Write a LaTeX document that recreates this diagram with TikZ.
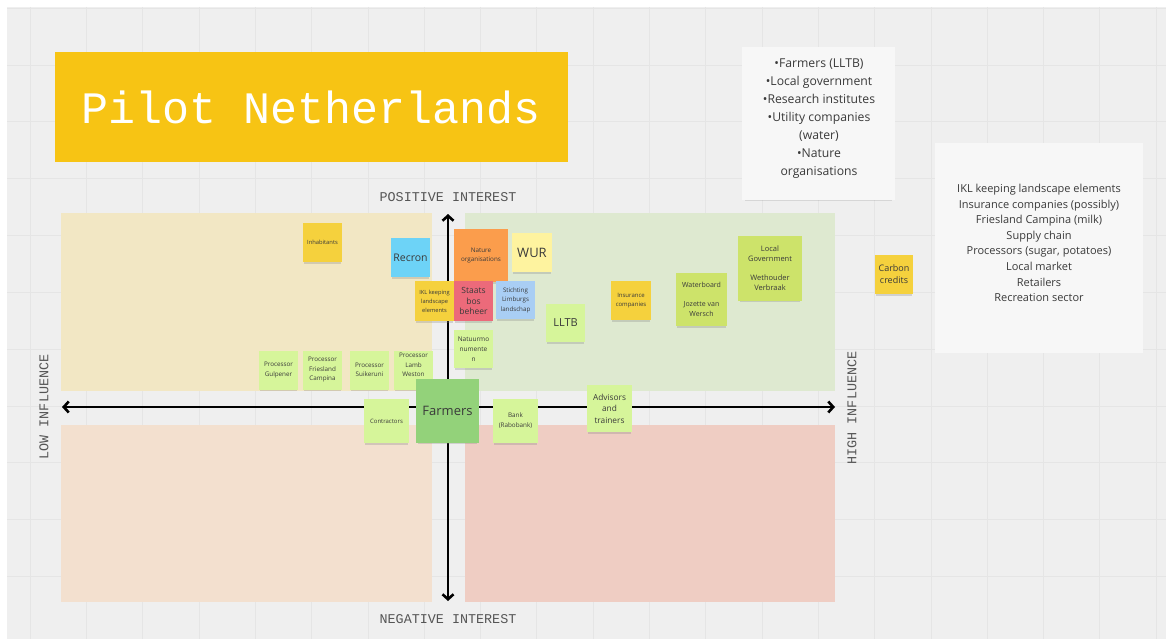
\documentclass[tikz,border=0pt]{standalone}
\usepackage{fontspec}
\setmainfont{Open Sans}
\newfontfamily\monof{Liberation Mono}
\usetikzlibrary{arrows.meta,shadows}
\definecolor{canvas}{HTML}{EFEFEF}
\definecolor{gridc}{HTML}{E5E5E5}
\definecolor{qTL}{HTML}{F2E7C4}
\definecolor{qTR}{HTML}{DEE9D0}
\definecolor{qBL}{HTML}{F3E0CF}
\definecolor{qBR}{HTML}{EFCDC3}
\definecolor{titley}{HTML}{F7C414}
\definecolor{nYel}{HTML}{F5D13D}
\definecolor{nBlue}{HTML}{6DD3F7}
\definecolor{nOra}{HTML}{FB9D4C}
\definecolor{nLYel}{HTML}{FEF39F}
\definecolor{nPink}{HTML}{EC6A7A}
\definecolor{nLBlue}{HTML}{A9CEF4}
\definecolor{nLGreen}{HTML}{D6F59A}
\definecolor{nGreen}{HTML}{93D27A}
\definecolor{nYGreen}{HTML}{CDE36A}
\definecolor{ntext}{HTML}{3A3A3A}
\definecolor{labelc}{HTML}{555555}
\definecolor{boxc}{HTML}{F7F7F7}
\begin{document}
\begin{tikzpicture}[x=1pt,y=-1pt,
  note/.style={rectangle, inner sep=0.5pt, align=center, text=ntext,
    drop shadow={shadow xshift=0pt, shadow yshift=-3pt, shadow scale=0.95, opacity=0.28}},
  sz/.style 2 args={minimum width=#1pt, minimum height=#2pt},
  fs/.style 2 args={font=\fontsize{#1}{#2}\selectfont},
  axislabel/.style={text=labelc, font=\monof\fontsize{13.4}{15}\selectfont},
  axis/.style={line width=2.6pt, {Straight Barb[length=5pt,width=11pt]}-{Straight Barb[length=5pt,width=11pt]}},
  infobox/.style={rectangle, fill=boxc, draw=none,
    drop shadow={shadow xshift=0pt, shadow yshift=-4pt, shadow scale=0.96, opacity=0.22}},
  infotext/.style={align=center, text=ntext},
]
\useasboundingbox (0,0) rectangle (1166,639);
\fill[white] (0,0) rectangle (1166,639);
\fill[canvas] (7,7) rectangle (1166,639);
% grid
\foreach \i in {0,...,20} {\draw[gridc, line width=0.6pt] ({30+56.3*\i},7) -- ({30+56.3*\i},639);}
\foreach \j in {0,...,10} {\draw[gridc, line width=0.6pt] (7,{8.2+56.8*\j}) -- (1166,{8.2+56.8*\j});}

% quadrants
\fill[qTL] (61,213) rectangle (432,391);
\fill[qTR] (465,213) rectangle (835,391);
\fill[qBL] (61,425) rectangle (432,602);
\fill[qBR] (465,425) rectangle (835,602);

% title
\node[rectangle, fill=titley, sz={513}{110}, text=white, font=\monof\fontsize{45}{50}\selectfont] (title) at (311.5,107) {Pilot Netherlands};

% axis labels
\node[axislabel] (pos) at (448,197) {POSITIVE INTEREST};
\node[axislabel] (neg) at (448,619) {NEGATIVE INTEREST};
\node[axislabel, rotate=90] (low) at (44,407) {LOW INFLUENCE};
\node[axislabel, rotate=90] (high) at (852,408) {HIGH INFLUENCE};

% axes
\coordinate (axL) at (62,407);
\coordinate (axR) at (835,407);
\coordinate (axT) at (448,214);
\coordinate (axB) at (448,601);
\draw[axis] (axL) -- (axR);
\draw[axis] (axT) -- (axB);

% sticky notes
\node[note, fill=nYel, sz={39}{39}, fs={5.8}{7}] (inh) at (322.5,242.5) {Inhabitants};
\node[note, fill=nBlue, sz={39}{39}, fs={10.5}{12}] (recron) at (410.5,257.5) {Recron};
\node[note, fill=nOra, sz={54}{53}, fs={6.3}{9.5}] (nature) at (481,255.5) {Nature\\organisations};
\node[note, fill=nLYel, sz={40}{39}, fs={13}{15}] (wur) at (532,252.5) {WUR};
\node[note, fill=nYel, sz={39}{40}, fs={5.7}{9}] (ikl) at (434.5,301) {IKL keeping\\landscape\\elements};
\node[note, fill=nPink, sz={39}{40}, fs={8.5}{10.5}] (staats) at (473.5,301) {Staats\\bos\\beheer};
\node[note, fill=nLBlue, sz={39}{38}, fs={6.2}{9.5}] (stichting) at (515.5,300) {Stichting\\Limburgs\\landschap};
\node[note, fill=nLGreen, sz={39}{38}, fs={11}{13}] (lltb) at (565.5,323) {LLTB};
\node[note, fill=nLGreen, sz={39}{38}, fs={6.5}{10}] (natuur) at (473.5,349) {Natuurmo\\numente\\n};
\node[note, fill=nLGreen, sz={39}{39}, fs={6.3}{9.5}] (pgul) at (278.5,370) {Processor\\Gulpener};
\node[note, fill=nLGreen, sz={39}{39}, fs={6.3}{9.5}] (pfc) at (322.5,370) {Processor\\Friesland\\Campina};
\node[note, fill=nLGreen, sz={39}{39}, fs={6.3}{9.5}] (psuik) at (369.5,370) {Processor\\Suikeruni};
\node[note, fill=nLGreen, sz={39}{39}, fs={6.3}{9.5}] (plamb) at (413.5,370) {Processor\\Lamb\\[-0.5pt]Weston\\[1.5pt]};
\node[note, fill=nLGreen, sz={45}{44}, fs={6}{9}] (contr) at (386.5,421) {Contractors};
\node[note, fill=nGreen, sz={63}{64}, fs={13}{15}] (farmers) at (447.5,411) {Farmers};
\node[note, fill=nLGreen, sz={45}{44}, fs={6.3}{10}] (bank) at (515.5,421) {Bank\\(Rabobank)};
\node[note, fill=nYel, sz={40}{39}, fs={6}{9}] (insur) at (631,300.5) {Insurance\\companies};
\node[note, fill=nYGreen, sz={51}{53}, fs={7}{10}] (water) at (701.5,299.5) {Waterboard\\[9pt]Jozette van\\Wersch};
\node[note, fill=nYGreen, sz={64}{65}, fs={7.5}{10}] (localgov) at (770,268.5) {Local\\Government\\[9pt]Wethouder\\Verbraak};
\node[note, fill=nLGreen, sz={45}{47}, fs={8.3}{11.5}] (advis) at (609.5,408.5) {Advisors\\and\\trainers};
\node[note, fill=nYel, sz={38}{39}, fs={9}{12}] (carbon) at (894,274.5) {Carbon\\credits};

% info boxes
\node[infobox, sz={153}{153}] (box1) at (818.5,123.5) {};
\node[infotext, fs={12.2}{18}] (box1t) at (819,119) {•Farmers (LLTB)\\•Local government\\•Research institutes\\•Utility companies\\(water)\\•Nature\\organisations};
\node[infobox, sz={208}{210}] (box2) at (1039,248) {};
\node[infotext, fs={11}{15.6}] (box2t) at (1039,243) {IKL keeping landscape elements\\Insurance companies (possibly)\\Friesland Campina (milk)\\Supply chain\\Processors (sugar, potatoes)\\Local market\\Retailers\\Recreation sector};
\end{tikzpicture}
\end{document}
